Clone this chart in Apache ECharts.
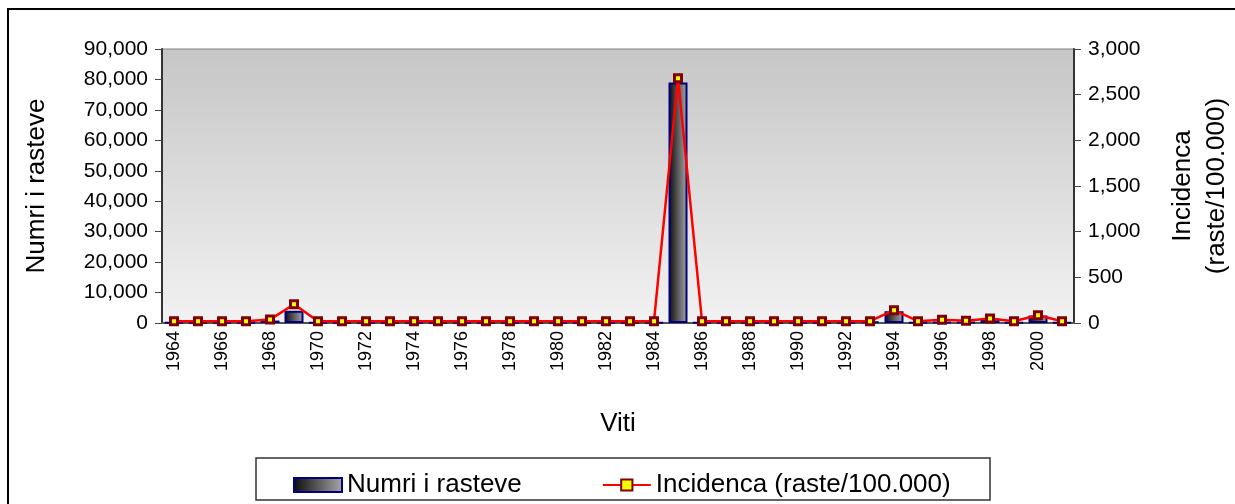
<!DOCTYPE html>
<html>
<head>
<meta charset="utf-8">
<script src="https://cdn.jsdelivr.net/npm/echarts@6/dist/echarts.min.js"></script>
<style>
  html, body { margin: 0; padding: 0; background: #fff; }
  #chart { width: 1235px; height: 504px; }
</style>
</head>
<body>
<div id="chart"></div>
<script>
// years on the x axis
let years = [];
for (let y = 1964; y <= 2001; y++) years.push(String(y));

// number of cases (left axis)
const cases = [
  200, 200, 200, 200, 800, 4000, 200, 200, 200, 200,   // 1964-1973
  200, 200, 200, 200, 200, 200, 200, 200, 200, 200,    // 1974-1983
  200, 79000, 200, 200, 200, 200, 200, 200, 200, 500,  // 1984-1993
  3900, 200, 400, 300, 1500, 200, 2500, 200            // 1994-2001
];

// incidence per 100.000 (right axis)
const incidence = [
  20, 20, 20, 20, 37, 205, 20, 20, 20, 20,
  20, 20, 20, 20, 20, 20, 20, 20, 20, 20,
  20, 2680, 20, 20, 20, 20, 20, 20, 20, 20,
  140, 20, 35, 25, 50, 20, 85, 20
];

const leftTicks = [0, 90000, 10000];
const rightTicks = [0, 3000, 500];

const font = "'Liberation Sans', Arial, sans-serif";
const fmt = function (v) {
  return String(v).replace(/\B(?=(\d{3})+(?!\d))/g, ',');
};

let chart = echarts.init(document.getElementById('chart'));
chart.setOption({
  animation: false,
  textStyle: { fontFamily: font, color: '#000' },
  grid: {
    left: 162, right: 161, top: 49, bottom: 181,
    outerBoundsMode: 'none',
    show: true,
    borderColor: '#808080',
    borderWidth: 1,
    backgroundColor: new echarts.graphic.LinearGradient(0, 0, 0, 1, [
      { offset: 0, color: '#c6c6c6' },
      { offset: 1, color: '#f2f2f2' }
    ])
  },
  graphic: [
    {
      type: 'rect', silent: true, z: -10,
      shape: { x: 8, y: 9, width: 1400, height: 700 },
      style: { fill: '#fff', stroke: '#000', lineWidth: 2 }
    },
    {
      type: 'rect', silent: true, z: -5,
      shape: { x: 256, y: 458, width: 734, height: 42 },
      style: { fill: '#fff', stroke: '#333', lineWidth: 1.5 }
    }
  ],
  legend: {
    left: 293, top: 472,
    padding: 0,
    itemWidth: 48, itemHeight: 14,
    itemGap: 80,
    textStyle: { fontSize: 26, fontFamily: font, color: '#000' },
    data: [
      { name: 'Numri i rasteve', icon: 'rect' },
      { name: 'Incidenca (raste/100.000)' }
    ]
  },
  xAxis: {
    type: 'category',
    data: years,
    name: 'Viti',
    nameLocation: 'middle',
    nameGap: 88,
    nameTextStyle: { fontSize: 26, fontFamily: font, color: '#000' },
    axisLine: { lineStyle: { color: '#555', width: 2 } },
    axisTick: { interval: 0, length: 6, lineStyle: { color: '#555' } },
    axisLabel: {
      interval: 1, rotate: 90, fontSize: 18, color: '#000', margin: 8
    }
  },
  yAxis: [
    {
      type: 'value',
      min: leftTicks[0], max: leftTicks[1], interval: leftTicks[2],
      name: 'Numri i rasteve',
      nameLocation: 'middle',
      nameGap: 112,
      nameTextStyle: { fontSize: 26, fontFamily: font, color: '#000' },
      axisLine: { show: true, lineStyle: { color: '#333', width: 2 } },
      axisTick: { show: true, length: 7, lineStyle: { color: '#444' } },
      splitLine: { show: false },
      axisLabel: { fontSize: 21, color: '#000', margin: 14, formatter: fmt }
    },
    {
      type: 'value',
      position: 'right',
      min: rightTicks[0], max: rightTicks[1], interval: rightTicks[2],
      name: 'Incidenca\n(raste/100.000)',
      nameLocation: 'middle',
      nameGap: 92,
      nameTextStyle: { fontSize: 26, lineHeight: 34, fontFamily: font, color: '#000' },
      axisLine: { show: true, lineStyle: { color: '#333', width: 2 } },
      axisTick: { show: true, length: 7, lineStyle: { color: '#444' } },
      splitLine: { show: false },
      axisLabel: { fontSize: 21, color: '#000', margin: 14, formatter: fmt }
    }
  ],
  series: [
    {
      name: 'Numri i rasteve',
      type: 'bar',
      yAxisIndex: 0,
      data: cases,
      barWidth: 19,
      itemStyle: {
        color: new echarts.graphic.LinearGradient(0, 0, 1, 0, [
          { offset: 0, color: '#0a0a0a' },
          { offset: 0.5, color: '#5a5a5a' },
          { offset: 1, color: '#a8a8a8' }
        ]),
        borderColor: '#000080',
        borderWidth: 2
      }
    },
    {
      name: 'Incidenca (raste/100.000)',
      type: 'line',
      yAxisIndex: 1,
      data: incidence,
      symbol: 'rect',
      symbolSize: 7,
      lineStyle: { color: '#ff0000', width: 2.5 },
      itemStyle: { color: '#ffff00', borderColor: '#800000', borderWidth: 3 }
    }
  ]
});
</script>
</body>
</html>
